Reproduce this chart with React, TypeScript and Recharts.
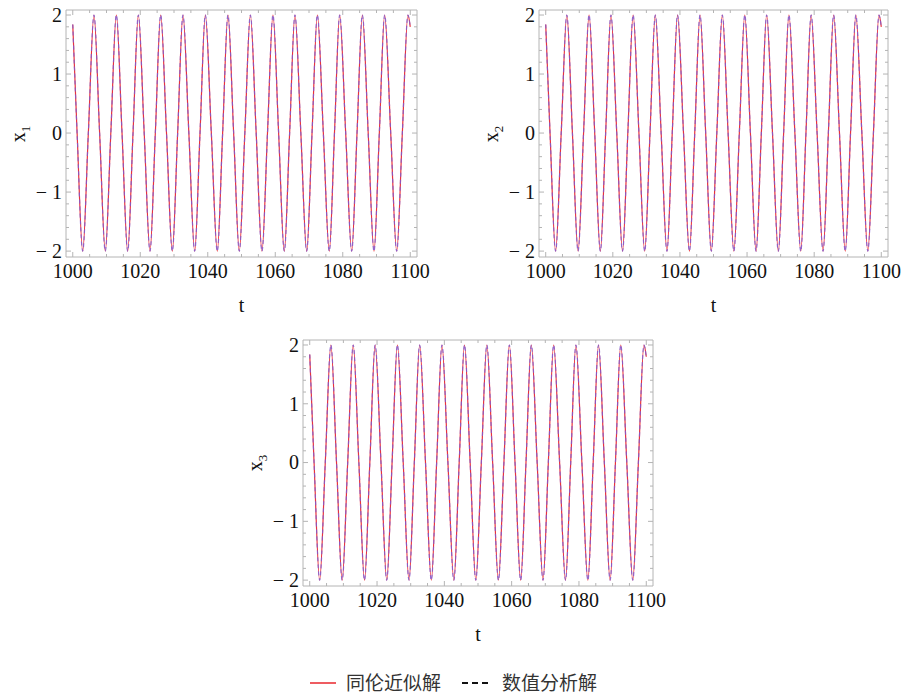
import { LineChart, Line, XAxis, YAxis } from 'recharts';

// key points (peaks, troughs, zero crossings); x1, x2, x3 coincide
const times = [
  1000, 1001.29, 1002.95, 1004.62, 1006.29, 1007.96, 1009.64, 1011.28, 1012.92, 1014.6,
  1016.28, 1017.86, 1019.44, 1021.17, 1022.89, 1024.47, 1026.05, 1027.78, 1029.5, 1031.08,
  1032.66, 1034.4, 1036.13, 1037.71, 1039.29, 1041.06, 1042.83, 1044.41, 1045.99, 1047.67,
  1049.35, 1050.99, 1052.63, 1054.35, 1056.07, 1057.7, 1059.32, 1061.0, 1062.68, 1064.26,
  1065.84, 1067.58, 1069.32, 1070.9, 1072.48, 1074.25, 1076.01, 1077.55, 1079.09, 1080.87,
  1082.65, 1084.23, 1085.81, 1087.54, 1089.26, 1090.84, 1092.42, 1094.21, 1095.99, 1097.66,
  1099.32, 1100,
];
const homotopy = [
  1.84, 0, -2, 0, 2, 0, -2, 0, 2, 0,
  -2, 0, 2, 0, -2, 0, 2, 0, -2, 0,
  2, 0, -2, 0, 2, 0, -2, 0, 2, 0,
  -2, 0, 2, 0, -2, 0, 2, 0, -2, 0,
  2, 0, -2, 0, 2, 0, -2, 0, 2, 0,
  -2, 0, 2, 0, -2, 0, 2, 0, -2, 0,
  2, 1.8,
];
const numeric = [...homotopy];

const xTicks = [
  1000, 1005, 1010, 1015, 1020, 1025, 1030, 1035, 1040, 1045, 1050,
  1055, 1060, 1065, 1070, 1075, 1080, 1085, 1090, 1095, 1100,
];
const xMajor = [1000, 1020, 1040, 1060, 1080, 1100];
const yTicks = [
  -2, -1.8, -1.6, -1.4, -1.2, -1, -0.8, -0.6, -0.4, -0.2, 0,
  0.2, 0.4, 0.6, 0.8, 1, 1.2, 1.4, 1.6, 1.8, 2,
];
const yMajor = [-2, -1, 0, 1, 2];
const yLabels: Record<string, string> = { '-2': '\u2212 2', '-1': '\u2212 1', '0': '0', '1': '1', '2': '2' };

const data = times.map((t, i) => ({ t, h: homotopy[i], n: numeric[i] }));

const FRAME = '#b4b4b4';
const SERIF = '"Liberation Serif", "DejaVu Serif", serif';

const isMajor = (v: number, list: number[]) => list.some((m) => Math.abs(m - v) < 1e-6);

function makeTick(side: 'bottom' | 'top' | 'left' | 'right') {
  return (props: any) => {
    const { x, y, payload } = props;
    const v = payload.value as number;
    const major = isMajor(v, side === 'bottom' || side === 'top' ? xMajor : yMajor);
    const len = major ? 5 : 3;
    if (side === 'bottom') {
      return (
        <g>
          <line x1={x} y1={y} x2={x} y2={y - len} stroke={FRAME} />
          {major && (
            <text x={x} y={y + 21} textAnchor="middle" fontFamily={SERIF} fontSize={20} fill="#111">
              {v}
            </text>
          )}
        </g>
      );
    }
    if (side === 'top') {
      return <line x1={x} y1={y} x2={x} y2={y + len} stroke={FRAME} />;
    }
    if (side === 'left') {
      return (
        <g>
          <line x1={x} y1={y} x2={x + len} y2={y} stroke={FRAME} />
          {major && (
            <text x={x - 4} y={y} dy="0.34em" textAnchor="end" fontFamily={SERIF} fontSize={20} fill="#111">
              {yLabels[String(v)]}
            </text>
          )}
        </g>
      );
    }
    return <line x1={x} y1={y} x2={x - len} y2={y} stroke={FRAME} />;
  };
}

// plot area sits at (OFF.left, OFF.top) inside each chart
const OFF = { left: 60, top: 10 };
const AX = { bottom: 40, left: 50, top: 2, right: 2 };
const PAD_R = 32;

function Panel({ fx, fy, w, h, sub }: { fx: number; fy: number; w: number; h: number; sub: string }) {
  const margin = { left: OFF.left - AX.left, top: OFF.top - AX.top, right: PAD_R, bottom: 10 };
  return (
    <div style={{ position: 'absolute', left: fx - OFF.left, top: fy - OFF.top }}>
      <LineChart width={w + OFF.left + AX.right + PAD_R} height={h + OFF.top + AX.bottom + 10} data={data} margin={margin}>
        <XAxis xAxisId="b" dataKey="t" type="number" domain={[998, 1102]} allowDataOverflow ticks={xTicks}
          interval={0} height={AX.bottom} tickSize={0} tickMargin={0} tickLine={false} stroke={FRAME} tick={makeTick('bottom')} />
        <XAxis xAxisId="t" dataKey="t" type="number" orientation="top" domain={[998, 1102]} allowDataOverflow ticks={xTicks}
          interval={0} height={AX.top} tickSize={0} tickMargin={0} tickLine={false} stroke={FRAME} tick={makeTick('top')} />
        <YAxis yAxisId="l" type="number" domain={[-2.1, 2.085]} allowDataOverflow ticks={yTicks}
          interval={0} width={AX.left} tickSize={0} tickMargin={0} tickLine={false} stroke={FRAME} tick={makeTick('left')} />
        <YAxis yAxisId="r" type="number" orientation="right" domain={[-2.1, 2.085]} allowDataOverflow ticks={yTicks}
          interval={0} width={AX.right} tickSize={0} tickMargin={0} tickLine={false} stroke={FRAME} tick={makeTick('right')} />
        <Line xAxisId="b" yAxisId="l" type="monotone" dataKey="h" stroke="#e8343c" strokeWidth={1.2} dot={false}
          isAnimationActive={false} />
        <Line xAxisId="t" yAxisId="r" type="monotone" dataKey="n" stroke="#7a5ad6" strokeOpacity={0.8} strokeWidth={1.2}
          strokeDasharray="4 3" dot={false} isAnimationActive={false} />
      </LineChart>
      <div style={{ position: 'absolute', left: OFF.left + w / 2 - 10, top: OFF.top + h + 38, width: 20, textAlign: 'center',
        fontFamily: SERIF, fontSize: 20, lineHeight: '20px', color: '#111' }}>t</div>
      <div style={{ position: 'absolute', left: OFF.left - 63, top: OFF.top + h / 2 - 10, width: 30, height: 20,
        transform: 'rotate(-90deg)', textAlign: 'center', fontFamily: SERIF, fontSize: 20, lineHeight: '20px', color: '#111' }}>
        x<sub style={{ fontSize: 13 }}>{sub}</sub>
      </div>
    </div>
  );
}

export default function App() {
  return (
    <div style={{ position: 'absolute', left: 0, top: 0, width: 904, height: 695, background: '#fff', overflow: 'hidden' }}>
      <Panel fx={66} fy={10} w={351} h={247} sub="1" />
      <Panel fx={539} fy={10} w={349} h={247} sub="2" />
      <Panel fx={303} fy={340} w={350} h={246} sub="3" />
      <svg style={{ position: 'absolute', left: 0, top: 668 }} width={904} height={30}>
        <line x1={310} y1={15} x2={336} y2={15} stroke="#e8262c" strokeWidth={1.5} />
        <text x={346} y={15} dy="0.35em" fontFamily='"Noto Sans CJK SC", sans-serif' fontSize={19} fill="#333">同伦近似解</text>
        <line x1={462} y1={15} x2={490} y2={15} stroke="#111" strokeWidth={2.2} strokeDasharray="6 4" />
        <text x={502} y={15} dy="0.35em" fontFamily='"Noto Sans CJK SC", sans-serif' fontSize={19} fill="#333">数值分析解</text>
      </svg>
    </div>
  );
}
